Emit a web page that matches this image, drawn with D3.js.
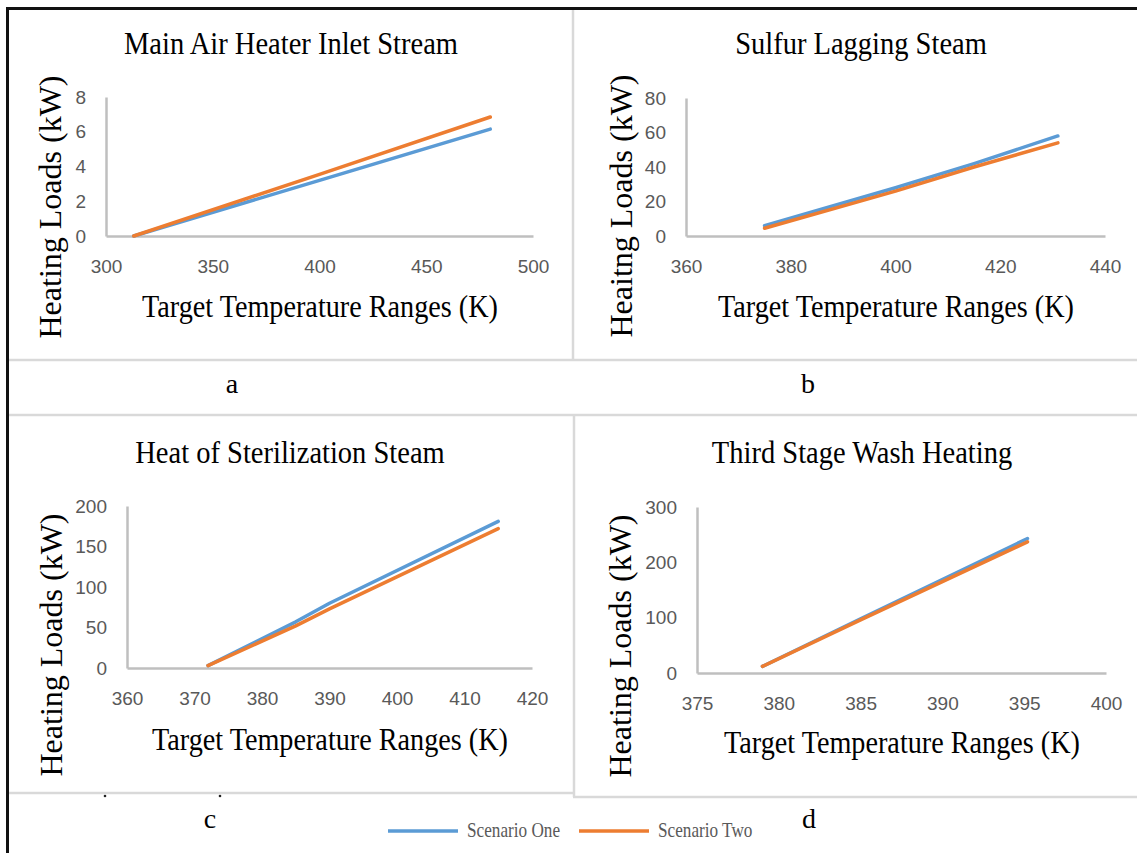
<!DOCTYPE html>
<html>
<head>
<meta charset="utf-8">
<script src="https://cdn.jsdelivr.net/npm/d3@7"></script>
<style>
  body { margin: 0; background: #fff; }
  svg { display: block; }
</style>
</head>
<body>
<div id="my_dataviz"></div>
<script>
// chart data
var panelLetters = ["a", "b", "c", "d"];
var panelTitles = ["Main Air Heater Inlet Stream", "Sulfur Lagging Steam",
                   "Heat of Sterilization Steam", "Third Stage Wash Heating"];
var yTitles = ["Heating Loads (kW)", "Heaitng Loads (kW)", "Heating Loads (kW)", "Heating Loads (kW)"];
var xTitle = "Target Temperature Ranges (K)";
var seriesNames = ["Scenario One", "Scenario Two"];

var xTicksA = [300, 350, 400, 450, 500];
var yTicksA = [0, 2, 4, 6, 8];
var tempA = [313, 400, 480];
var oneA = [0, 3.2, 6.15];
var twoA = [0, 3.55, 6.85];

var xTicksB = [360, 380, 400, 420, 440];
var yTicksB = [0, 20, 40, 60, 80];
var tempB = [375, 400, 415, 431];
var oneB = [6, 28, 42, 58];
var twoB = [4.5, 26, 40, 54];

var xTicksC = [360, 370, 380, 390, 400, 410, 420];
var yTicksC = [0, 50, 100, 150, 200];
var tempC = [372, 385, 390, 415];
var oneC = [3, 57, 80, 181];
var twoC = [3, 52, 73, 172];

var xTicksD = [375, 380, 385, 390, 395, 400];
var yTicksD = [0, 100, 200, 300];
var tempD = [379, 385, 395.2];
var oneD = [12, 98, 243];
var twoD = [12, 96, 237];

var colors = ["#5b9bd5", "#ed7d31"];

// layout of each panel (pixels)
var panels = [
  {xt: xTicksA, yt: yTicksA, temp: tempA, s: [oneA, twoA], x0: 106, x1: 533, y0: 236, y1: 97,
   tx: 291, ty: 54, ax: 320, ay: 317, yx: 61, yy: 207, lx: 232, ly: 393},
  {xt: xTicksB, yt: yTicksB, temp: tempB, s: [oneB, twoB], x0: 686, x1: 1105, y0: 236, y1: 98,
   tx: 861, ty: 54, ax: 896, ay: 317, yx: 632, yy: 206, lx: 808, ly: 393},
  {xt: xTicksC, yt: yTicksC, temp: tempC, s: [oneC, twoC], x0: 127, x1: 532, y0: 668, y1: 506,
   tx: 290, ty: 463, ax: 330, ay: 750, yx: 62, yy: 645, lx: 210, ly: 828},
  {xt: xTicksD, yt: yTicksD, temp: tempD, s: [oneD, twoD], x0: 697, x1: 1106, y0: 673, y1: 507,
   tx: 862, ty: 463, ax: 902, ay: 753, yx: 631, yy: 646, lx: 809, ly: 828}
];

var width = 1137, height = 853;
var serif = "'Liberation Serif', 'Times New Roman', serif";

var svg = d3.select("#my_dataviz")
  .append("svg")
    .attr("width", width)
    .attr("height", height);

svg.append("rect").attr("width", width).attr("height", height).attr("fill", "#fff");

// light grey frame lines
var grey = "#d9d9d9";
function gline(x1, y1, x2, y2) {
  svg.append("line")
    .attr("x1", x1).attr("y1", y1).attr("x2", x2).attr("y2", y2)
    .attr("stroke", grey).attr("stroke-width", 2.5);
}
gline(573, 9, 573, 360);
gline(7, 360, width, 360);
gline(7, 415, width, 415);
gline(574, 415, 574, 797);
gline(7, 793, 573, 793);
gline(573, 797, width, 797);

// black outer border (top and left)
svg.append("path")
  .attr("d", "M7.5," + height + "V8.5H" + width)
  .attr("fill", "none")
  .attr("stroke", "#111")
  .attr("stroke-width", 3);

// stray dots under panel c
svg.selectAll(".dot")
  .data([105, 220])
  .enter()
  .append("circle")
    .attr("cx", function(d) { return d; })
    .attr("cy", 796)
    .attr("r", 1.3)
    .attr("fill", "#222");

// squeezed serif text helper
function label(x, y, txt, size, sx) {
  return svg.append("text")
    .attr("transform", "translate(" + x + "," + y + ") scale(" + sx + ",1)")
    .attr("text-anchor", "middle")
    .style("font-family", serif)
    .style("font-size", size + "px")
    .attr("fill", "#000")
    .text(txt);
}

panels.forEach(function(p, i) {
  var x = d3.scaleLinear()
    .domain(d3.extent(p.xt))
    .range([p.x0, p.x1]);
  var y = d3.scaleLinear()
    .domain(d3.extent(p.yt))
    .range([p.y0, p.y1]);

  // X axis
  var gx = svg.append("g")
    .attr("transform", "translate(0," + p.y0 + ")")
    .call(d3.axisBottom(x).tickValues(p.xt).tickSize(0).tickPadding(24).tickFormat(d3.format("d")));
  // Y axis
  var gy = svg.append("g")
    .attr("transform", "translate(" + p.x0 + ",0)")
    .call(d3.axisLeft(y).tickValues(p.yt).tickSize(0).tickPadding(20).tickFormat(d3.format("d")));

  [gx, gy].forEach(function(g) {
    g.select(".domain").attr("stroke", "#bfbfbf").attr("stroke-width", 2.5);
    g.selectAll("text")
      .style("font-family", "'Liberation Sans', Arial, sans-serif")
      .style("font-size", "19px")
      .attr("fill", "#595959");
  });

  // the two scenario lines
  var line = d3.line()
    .x(function(d) { return x(d[0]); })
    .y(function(d) { return y(d[1]); });
  p.s.forEach(function(vals, k) {
    svg.append("path")
      .datum(p.temp.map(function(t, j) { return [t, vals[j]]; }))
      .attr("d", line)
      .attr("fill", "none")
      .attr("stroke", colors[k])
      .attr("stroke-width", 3.5)
      .attr("stroke-linecap", "round")
      .attr("stroke-linejoin", "round");
  });

  // titles
  label(p.tx, p.ty, panelTitles[i], 31, 0.92);
  label(p.ax, p.ay, xTitle, 31, 0.91);
  svg.append("text")
    .attr("transform", "translate(" + p.yx + "," + p.yy + ") rotate(-90)")
    .attr("text-anchor", "middle")
    .style("font-family", serif)
    .style("font-size", "32px")
    .attr("fill", "#000")
    .text(yTitles[i]);
  label(p.lx, p.ly, panelLetters[i], 28, 1);
});

// legend
var legend = svg.append("g");
var legX = [388, 579];
seriesNames.forEach(function(name, k) {
  legend.append("line")
    .attr("x1", legX[k]).attr("x2", legX[k] + 70)
    .attr("y1", 831).attr("y2", 831)
    .attr("stroke", colors[k])
    .attr("stroke-width", 3.5);
  legend.append("text")
    .attr("transform", "translate(" + (legX[k] + 79) + ",837) scale(0.86,1)")
    .style("font-family", serif)
    .style("font-size", "20px")
    .attr("fill", "#595959")
    .text(name);
});
</script>
</body>
</html>
